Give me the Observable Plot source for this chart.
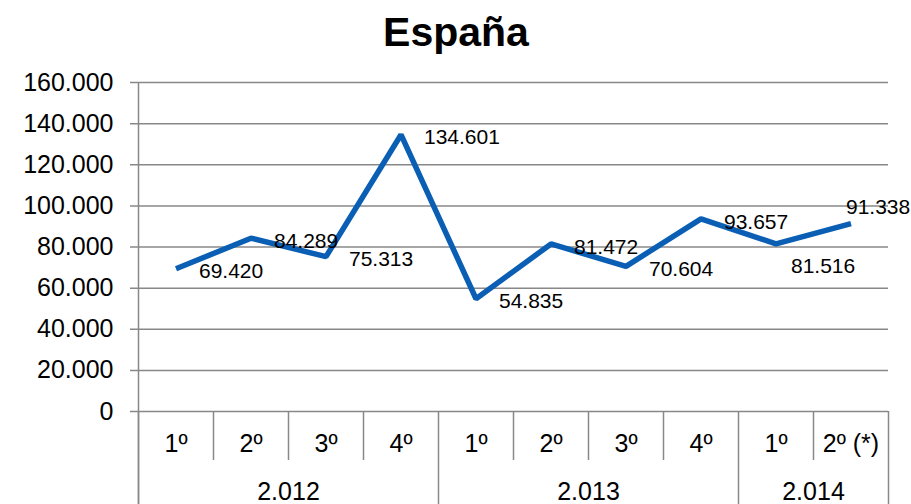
<!DOCTYPE html>
<html><head><meta charset="utf-8">
<script src="https://cdn.jsdelivr.net/npm/d3@7"></script>
<script src="https://cdn.jsdelivr.net/npm/@observablehq/plot@0.6"></script>
<style>body{margin:0;background:#fff;} svg{display:block;}</style>
</head><body><div id="chart"></div>
<script>
const chartTitle = "España";
const quarters = ["1º", "2º", "3º", "4º", "1º", "2º", "3º", "4º", "1º", "2º (*)"];
const years = ["2.012", "2.013", "2.014"];
const quartersPerYear = [4, 4, 2];
const values = [69420, 84289, 75313, 134601, 54835, 81472, 70604, 93657, 81516, 91338];
const yTicks = [0, 20000, 40000, 60000, 80000, 100000, 120000, 140000, 160000];

const fmt = d3.formatLocale({decimal: ",", thousands: ".", grouping: [3], currency: ["", ""]}).format(",d");

// year boundaries (in quarter index units)
const bounds = [0];
quartersPerYear.forEach(n => bounds.push(bounds[bounds.length - 1] + n));
const yearRows = years.map((y, i) => ({label: y, mid: (bounds[i] + bounds[i + 1]) / 2}));
const quarterSeps = d3.range(1, quarters.length).filter(i => !bounds.includes(i));

// label nudges (styling only)
const nudge = values.map((v, i) => i === 8 ? {dx: 15, dy: 22} : i === 9 ? {dx: -5, dy: -16} : {dx: 23, dy: 3});

const font = "'Liberation Sans', Arial, sans-serif";
const grid = "#888888";
const blue = "#0a5fb4";

const labelMarks = values.map((v, i) => Plot.text([v], {
  x: () => i + 0.5, y: d => d, text: d => fmt(d),
  textAnchor: "start", dx: nudge[i].dx, dy: nudge[i].dy, fontSize: 21, fill: "#000"
}));

const chart = Plot.plot({
  width: 911, height: 504,
  marginLeft: 138, marginRight: 23, marginTop: 82, marginBottom: 93,
  style: {fontFamily: font, background: "#fff", color: "#000", overflow: "visible"},
  x: {domain: [0, quarters.length], axis: null},
  y: {domain: [0, 160000]},
  marks: [
    Plot.ruleY(yTicks, {stroke: grid, strokeWidth: 1.5, insetLeft: -8}),
    Plot.axisY(yTicks, {tickSize: 0, tickPadding: 25, tickFormat: fmt, fontSize: 25, fill: "#000", label: null}),
    Plot.ruleX([0], {stroke: grid, strokeWidth: 1.5, insetBottom: -93}),
    Plot.ruleX(bounds, {x: d => d, y1: () => 0, y2: () => 0, stroke: grid, strokeWidth: 1.5, insetBottom: -93}),
    Plot.ruleX(quarterSeps, {x: d => d, y1: () => 0, y2: () => 0, stroke: grid, strokeWidth: 1.5, insetBottom: -49}),
    Plot.line(values, {x: (d, i) => i + 0.5, y: d => d, stroke: blue, strokeWidth: 5.5, strokeLinejoin: "miter", strokeLinecap: "butt"}),
    ...labelMarks,
    Plot.text(quarters, {x: (d, i) => i + 0.5, text: d => d, frameAnchor: "bottom", dy: 40, fontSize: 25, fill: "#000"}),
    Plot.text(yearRows, {x: "mid", text: "label", frameAnchor: "bottom", dy: 88, fontSize: 25, fill: "#000"}),
    Plot.text([chartTitle], {text: d => d, frameAnchor: "top", lineAnchor: "top", dx: -57.5, dy: -66, fontSize: 41, fontWeight: "bold", fill: "#000"})
  ]
});
document.getElementById("chart").appendChild(chart);
</script>
</body></html>
